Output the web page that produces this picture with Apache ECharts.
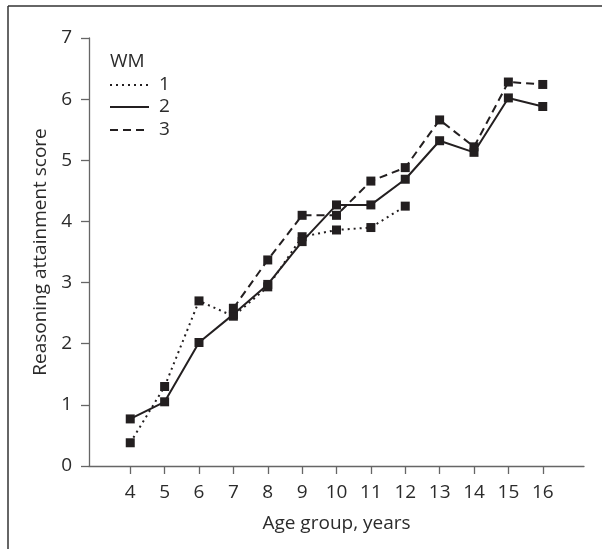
<!DOCTYPE html>
<html>
<head>
<meta charset="utf-8">
<script src="https://cdn.jsdelivr.net/npm/echarts@6/dist/echarts.min.js"></script>
<style>
  html, body { margin: 0; padding: 0; background: #fff; }
  #main { width: 602px; height: 549px; }
</style>
</head>
<body>
<div id="main"></div>
<script>
// data
var ages = [4, 5, 6, 7, 8, 9, 10, 11, 12, 13, 14, 15, 16];
var wm1 = [0.38, 1.30, 2.70, 2.45, 2.93, 3.75, 3.86, 3.90, 4.25, null, null, null, null];
var wm2 = [0.77, 1.05, 2.02, 2.48, 2.97, 3.67, 4.27, 4.27, 4.69, 5.32, 5.13, 6.02, 5.88];
var wm3 = [null, null, null, 2.58, 3.37, 4.10, 4.10, 4.66, 4.88, 5.66, 5.22, 6.28, 6.24];

var ink = '#231f20';
var txt = '#2b2b2b';
var font = 'Open Sans';
var fs = 19;

function pairs(vals) {
    var out = [];
    for (var i = 0; i < ages.length; i++) {
        if (vals[i] != null) out.push([ages[i], vals[i]]);
    }
    return out;
}

function makeSeries(name, vals, dash) {
    return {
        name: name,
        type: 'line',
        data: pairs(vals),
        symbol: 'rect',
        symbolSize: 9,
        itemStyle: { color: ink },
        lineStyle: { color: ink, width: 2, type: dash },
        animation: false
    };
}

var myChart = echarts.init(document.getElementById('main'));
myChart.setOption({
    backgroundColor: '#fff',
    grid: { left: 89, top: 38, right: 18, bottom: 83 },
    xAxis: {
        type: 'value',
        min: 2.8,
        max: 17.2,
        name: 'Age group, years',
        nameLocation: 'middle',
        nameGap: 48,
        nameTextStyle: { fontFamily: font, fontSize: fs, color: txt },
        axisLine: { lineStyle: { color: '#666', width: 1.3 } },
        axisTick: { customValues: ages, length: 8, lineStyle: { color: '#666', width: 1.3 } },
        axisLabel: { customValues: ages, margin: 17, fontFamily: font, fontSize: fs, color: txt },
        splitLine: { show: false }
    },
    yAxis: {
        type: 'value',
        min: 0,
        max: 7,
        interval: 1,
        name: 'Reasoning attainment score',
        nameLocation: 'middle',
        nameGap: 34,
        nameTextStyle: { fontFamily: font, fontSize: fs, color: txt },
        axisLine: { show: true, lineStyle: { color: '#666', width: 1.3 } },
        axisTick: { show: true, length: 8, lineStyle: { color: '#666', width: 1.3 } },
        axisLabel: { margin: 17, fontFamily: font, fontSize: fs, color: txt },
        splitLine: { show: false }
    },
    series: [
        makeSeries('1', wm1, [2, 4]),
        makeSeries('2', wm2, 'solid'),
        makeSeries('3', wm3, [8, 5])
    ],
    graphic: [
        // frame (top and left edges)
        { type: 'line', shape: { x1: 8, y1: 6, x2: 602, y2: 6 }, style: { stroke: '#333', lineWidth: 1.5 } },
        { type: 'line', shape: { x1: 8, y1: 6, x2: 8, y2: 549 }, style: { stroke: '#333', lineWidth: 1.5 } },
        // legend
        { type: 'text', left: 110, top: 52, style: { text: 'WM', fontFamily: font, fontSize: fs, fill: txt } },
        { type: 'line', shape: { x1: 110, y1: 85, x2: 149, y2: 85 }, style: { stroke: ink, lineWidth: 2, lineDash: [2, 4] } },
        { type: 'line', shape: { x1: 110, y1: 107, x2: 149, y2: 107 }, style: { stroke: ink, lineWidth: 2 } },
        { type: 'line', shape: { x1: 110, y1: 130, x2: 149, y2: 130 }, style: { stroke: ink, lineWidth: 2, lineDash: [8, 5] } },
        { type: 'text', left: 159, top: 75, style: { text: '1', fontFamily: font, fontSize: fs, fill: txt } },
        { type: 'text', left: 159, top: 97, style: { text: '2', fontFamily: font, fontSize: fs, fill: txt } },
        { type: 'text', left: 159, top: 120, style: { text: '3', fontFamily: font, fontSize: fs, fill: txt } }
    ]
});
</script>
</body>
</html>
